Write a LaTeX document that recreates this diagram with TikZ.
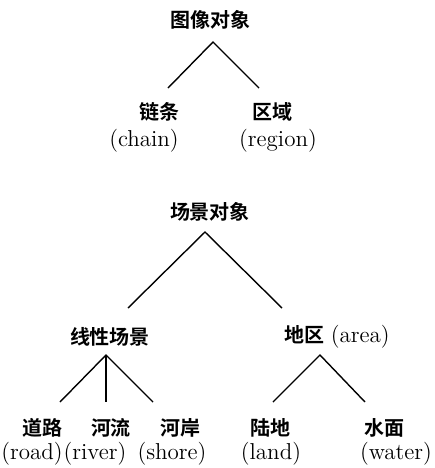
\documentclass[tikz,border=0pt]{standalone}
\usepackage{fontspec}
\newfontfamily\cjk[UprightFont=* Bold]{Noto Sans CJK SC}
\begin{document}
\begin{tikzpicture}[x=0.5pt,y=-0.5pt,
  zh/.style={font=\fontsize{10}{12}\cjk, inner sep=0pt},
  en/.style={font=\fontsize{11.5}{13}\selectfont, inner sep=0pt},
  edge/.style={line width=0.7pt}]
\useasboundingbox (0,0) rectangle (435,468);
% top tree
\node[zh] (t1) at (211,20) {图像对象};
\node[zh] (c1) at (160,112) {链条};
\node[en] (c1e) at (144,141) {(chain)};
\node[zh] (r1) at (273,112) {区域};
\node[en] (r1e) at (278,141) {(region)};
\coordinate (a1) at (213,42);
\coordinate (a1l) at (168,88);
\coordinate (a1r) at (259,88);
\draw[edge] (a1l) -- (a1) -- (a1r);
% second tree
\node[zh] (t2) at (210,212) {场景对象};
\coordinate (a2) at (205,232);
\coordinate (a2l) at (128,308);
\coordinate (a2r) at (282,308);
\draw[edge] (a2l) -- (a2) -- (a2r);
\node[zh] (ls) at (110,337) {线性场景};
\node[inner sep=0pt] (ar) at (337,337) {{\fontsize{10}{12}\cjk 地区} {\fontsize{11.5}{13}\selectfont(area)}};
\coordinate (a3) at (106,355);
\coordinate (a3l) at (60,402);
\coordinate (a3m) at (106,402);
\coordinate (a3r) at (153,402);
\draw[edge] (a3l) -- (a3) -- (a3r);
\draw[edge] (a3) -- (a3m);
\coordinate (a4) at (320,355);
\coordinate (a4l) at (273,402);
\coordinate (a4r) at (365,402);
\draw[edge] (a4l) -- (a4) -- (a4r);
% leaves
\node[zh] (road) at (43,428) {道路};
\node[zh] (river) at (111,428) {河流};
\node[zh] (shore) at (181,428) {河岸};
\node[zh] (land) at (271,428) {陆地};
\node[zh] (water) at (385,428) {水面};
\node[en] (roade) at (32,454) {(road)};
\node[en] (rivere) at (95,454) {(river)};
\node[en] (shoree) at (172,454) {(shore)};
\node[en] (lande) at (271,454) {(land)};
\node[en] (watere) at (396,454) {(water)};
\end{tikzpicture}
\end{document}
